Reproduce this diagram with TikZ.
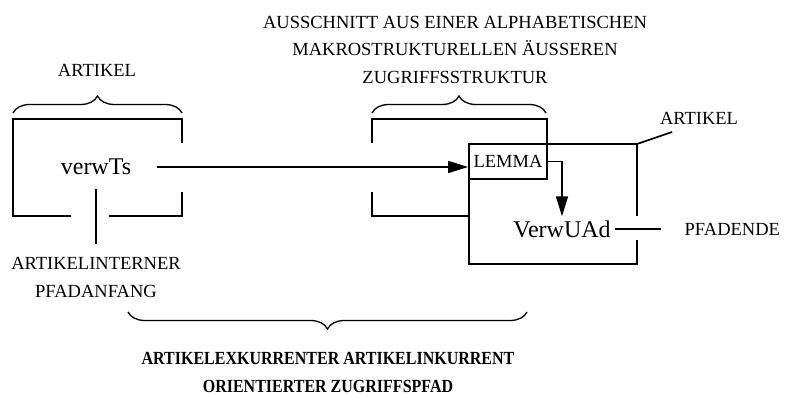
\documentclass[tikz,border=0pt]{standalone}
\usepackage{fontspec}
\setmainfont{Liberation Serif}
\newfontfamily\condserif[FakeStretch=0.865]{Liberation Serif}
\usepackage{tikz}
\usetikzlibrary{
	arrows.meta,
	positioning,
	calc,
	decorations.pathreplacing
}

\begin{document}
\begin{tikzpicture}[
		x=1pt, y=-1pt,
		>={Triangle[length=20pt,width=12pt]},
		line width=1.7pt,
		caption/.style={
			font=\fontsize{18.5}{27.5}\selectfont,
			align=center,
			inner sep=0pt
		},
		entry/.style={
			font=\fontsize{24}{28}\selectfont
		},
		heading/.style={
			font=\condserif\bfseries\fontsize{18.5}{28}\selectfont,
			align=center,
			inner sep=0pt
		},
		lemmabox/.style={
			draw,
			font=\fontsize{18.5}{22}\selectfont,
			minimum width=78pt,
			minimum height=35pt,
			inner sep=0pt
		},
		bracket/.style={
			decorate,
			decoration={brace, amplitude=17pt},
			line width=1.3pt
		}
		]
		\useasboundingbox (0,0) rectangle (785,395);
		
		% Labels
		\node[caption] (zugriff) at (455,49.5) {AUSSCHNITT AUS EINER ALPHABETISCHEN\\MAKROSTRUKTURELLEN ÄUSSEREN\\ZUGRIFFSSTRUKTUR};
		\node[caption] (artikelL) at (97,70) {ARTIKEL};
		\node[caption] (artikelR) at (699,118) {ARTIKEL};
		
		% Left article
		\draw (71,216) -| (13,119) -| (182,143);
		\draw (182,192) |- (109,216);
		\draw[bracket] (13,113) -- (182,113);
		
		% Access structure
		\draw (372,143) |- (547,119) -- (547,144);
		\draw (372,192) |- (469,216);
		\draw[bracket] (372,113) -- (546,113);
		
		% Right article
		\draw (637,216) |- (469,144) |- (637,264) -- (637,240);
		\draw (637,144) -- ([xshift=13pt,yshift=-7pt]artikelR.south west);
		
		% Path
		\node[lemmabox] (lemma) at (508,161.5) {LEMMA};
		\node[entry, inner xsep=25pt, inner ysep=13pt] (verwTs) at (96,167) {verwTs};
		\node[entry] (verwUAd) at (562,229) {VerwUAd};
		\node[caption, right=69pt of verwUAd] (pfadende) {PFADENDE};
		\node[caption, below=68pt of verwTs] (intern) {ARTIKELINTERNER\\PFADANFANG};
		
		\draw[->] (verwTs.east) -- (verwTs.east -| lemma.west);
		\draw[->] (lemma.east) -| (verwUAd.north);
		\draw[shorten >=13pt] (verwTs) -- (intern);
		\draw[shorten >=23pt] (verwUAd) -- (pfadende);
		
		% Whole path
		\draw[bracket] (527,312) -- (128,312);
		\node[heading] (zugriffspfad) at (328,372) {ARTIKELEXKURRENTER ARTIKELINKURRENT\\ORIENTIERTER ZUGRIFFSPFAD};
		
	\end{tikzpicture}
\end{document}
